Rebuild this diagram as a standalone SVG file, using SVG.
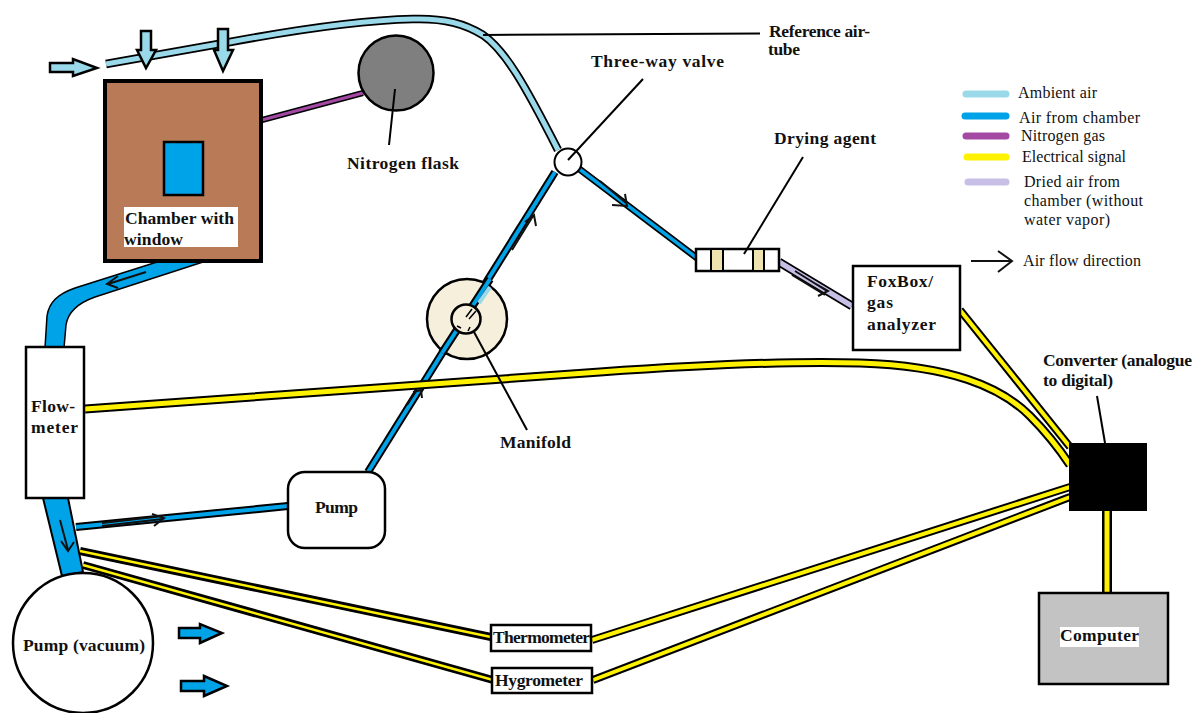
<svg xmlns="http://www.w3.org/2000/svg" width="1194" height="713" viewBox="0 0 1194 713">
<defs>
<style>
text{font-family:"Liberation Serif","Times New Roman",serif;fill:#111}
.b{font-weight:bold;font-size:17.500px}
.l{font-size:16px}
.box{fill:#fff;stroke:#000;stroke-width:2.5}
.k{fill:none;stroke:#000}
.blue{fill:none;stroke:#00a2e8}
.yel{fill:none;stroke:#fff200}
.amb{fill:none;stroke:#99d9ea}
.lead{fill:none;stroke:#000;stroke-width:2}
.leg{fill:none;stroke-width:7;stroke-linecap:round}
.ar{fill:none;stroke:#111;stroke-width:2}
</style>
</defs>
<rect width="1194" height="713" fill="#fff"/>
<g id="connectors">
<path class="k" stroke-width="8.5" d="M106 64L230 42C300 29 370 20 413 19C445 18 465 24 483 35C505 50 525 85 558 150"/>
<path class="amb" stroke-width="5" d="M106 64L230 42C300 29 370 20 413 19C445 18 465 24 483 35C505 50 525 85 558 150"/>
<path class="k" stroke-width="6" d="M262 120L363 93"/><path d="M262 120L363 93" fill="none" stroke="#a349a4" stroke-width="3"/>
<path d="M157 262H203L95 297C78 303 68 312 66 325L64 348H45L47 316C49 302 58 294 75 288Z" fill="#00a2e8" stroke="#000" stroke-width="1.5"/>
<path d="M43 498H68L83 572L62 576Z" fill="#00a2e8" stroke="#000" stroke-width="2"/>
<path class="k" stroke-width="8" d="M76 527L288 506"/><path class="blue" stroke-width="4" d="M76 527L288 506"/>
<path class="k" stroke-width="8" d="M368 472L555 172"/><path class="blue" stroke-width="4" d="M368 472L555 172"/>
<path class="k" stroke-width="7" d="M578 168L697 258"/><path class="blue" stroke-width="3.500" d="M578 168L697 258"/>
<path class="k" stroke-width="9" d="M779 262L852 306"/><path fill="none" stroke="#c8bfe7" stroke-width="5.500" d="M779 262L852 306"/>
<path class="k" stroke-width="9" d="M85 409L600 372C700 365 800 361 860 363C950 366 1000 386 1030 416C1045 431 1060 450 1070 465"/>
<path class="yel" stroke-width="5" d="M85 409L600 372C700 365 800 361 860 363C950 366 1000 386 1030 416C1045 431 1060 450 1070 465"/>
<path class="k" stroke-width="8" d="M960 310L1070 447"/><path class="yel" stroke-width="4" d="M960 310L1070 447"/>
<path class="k" stroke-width="8" d="M80 551L491 637"/><path class="yel" stroke-width="2.500" d="M80 551L491 637"/>
<path class="k" stroke-width="8" d="M83 565L493 680"/><path class="yel" stroke-width="2.500" d="M83 565L493 680"/>
<path class="k" stroke-width="8" d="M592 640L1070 487"/><path class="yel" stroke-width="4" d="M592 640L1070 487"/>
<path class="k" stroke-width="8" d="M593 680L1070 497"/><path class="yel" stroke-width="4" d="M593 680L1070 497"/>
<path class="k" stroke-width="10" d="M1107 510V592"/><path class="yel" stroke-width="5" d="M1107 510V592"/>
<path class="ar" d="M146 272L108 284M118 276L107 284L118 288"/>
<path class="ar" d="M60 520L68 550M61 541L68 551L74 542"/>
<path class="ar" d="M102 526L163 519M102 523L163 516M152 514L164 518L154 526" stroke-width="1.500"/>
<path class="ar" d="M600 181L626 203M612 205L627 206L625 194"/>
<path class="ar" d="M795 271L827 291M792 275L825 295M816 284L828 291L818 296"/>
<path class="ar" d="M407 405L417 390M413 392L421 390L422 398" stroke-width="1.500"/>
<path class="ar" d="M512 250L533 216M525 222L534 215L536 226" stroke-width="1.500"/>
</g>
<g id="ambient-arrows" fill="#99d9ea" stroke="#000" stroke-width="2.5">
<path d="M50 63H73V59L97 68L73 76V72H50Z"/>
<path d="M141 31H151V50H156L146 68L137 50H141Z"/>
<path d="M218 29H228V50H233L223 71L214 50H218Z"/>
</g>
<g id="exhaust-arrows" fill="#00a2e8" stroke="#000" stroke-width="2.5">
<path d="M179 628H200V624L222 633L200 643V638H179Z"/>
<path d="M181 681H204V676L227 686L204 696V691H181Z"/>
</g>
<g id="chamber">
<rect x="105" y="81" width="156" height="180" fill="#b97a57" stroke="#000" stroke-width="4"/>
<rect x="164" y="142" width="39" height="53" fill="#00a2e8" stroke="#000" stroke-width="2.5"/>
<rect x="124" y="207" width="114" height="40" fill="#fff"/>
<text class="b" x="125" y="224" textLength="109">Chamber with</text>
<text class="b" x="124" y="245" textLength="59">window</text>
</g>
<g id="nitrogen-flask">
<circle cx="396" cy="73" r="37.500" fill="#7f7f7f" stroke="#000" stroke-width="2.5"/>
<path class="lead" d="M395 89L389 145"/>
<text class="b" x="347" y="169" textLength="112">Nitrogen flask</text>
</g>
<g id="flowmeter">
<rect class="box" x="26" y="347" width="58" height="151"/>
<text class="b" x="31" y="412" textLength="44">Flow-</text>
<text class="b" x="31" y="433" textLength="47">meter</text>
</g>
<g id="pump-vacuum">
<circle class="box" cx="83" cy="643" r="70"/>
<text class="b" x="23" y="651" textLength="122">Pump (vacuum)</text>
</g>
<g id="pump">
<rect class="box" x="288" y="472" width="97" height="76" rx="17"/>
<text class="b" x="315" y="513" textLength="43">Pump</text>
</g>
<g id="manifold">
<circle cx="467" cy="319" r="40" fill="#f5efdc" stroke="#000" stroke-width="2.5"/>
<path class="k" stroke-width="8" d="M442 353L490 279"/>
<path class="blue" stroke-width="4" d="M442 353L490 279"/>
<path d="M490 287L479 303" fill="none" stroke="#99d9ea" stroke-width="4"/>
<circle cx="466" cy="319" r="14.500" fill="#f5efdc" stroke="#000" stroke-width="2.5"/>
<path d="M466 317L472 309M469 319L476 311M457 326L461 328M470 327L468 331" fill="none" stroke="#000" stroke-width="1.500"/>
<path class="lead" d="M474 332L527 430"/>
<text class="b" x="500" y="448" textLength="71">Manifold</text>
</g>
<g id="three-way-valve">
<circle cx="568" cy="162" r="13.500" fill="#fff" stroke="#000" stroke-width="2"/>
<path class="lead" d="M568 160L643 79"/>
<text class="b" x="591" y="67" textLength="133">Three-way valve</text>
</g>
<g id="reference-tube">
<path class="lead" d="M483 35L760 33.500"/>
<text class="b" x="769" y="37" textLength="101">Reference air-</text>
<text class="b" x="768" y="55" textLength="32">tube</text>
</g>
<g id="drying-agent">
<rect class="box" x="696" y="249" width="83" height="22"/>
<rect x="711" y="249" width="12" height="22" fill="#efe4b0" stroke="#000" stroke-width="2"/>
<rect x="753" y="249" width="11" height="22" fill="#efe4b0" stroke="#000" stroke-width="2"/>
<path class="lead" d="M803 157L744 254"/>
<text class="b" x="774" y="144" textLength="102">Drying agent</text>
</g>
<g id="foxbox">
<rect class="box" x="853" y="266" width="107" height="84"/>
<text class="b" x="867" y="287" textLength="66">FoxBox/</text>
<text class="b" x="867" y="308" textLength="26">gas</text>
<text class="b" x="867" y="330" textLength="69">analyzer</text>
</g>
<g id="thermometer">
<rect class="box" x="491" y="625" width="100" height="26"/>
<text class="b" x="493" y="643" textLength="97">Thermometer</text>
</g>
<g id="hygrometer">
<rect class="box" x="492" y="668" width="100" height="25"/>
<text class="b" x="495" y="686" textLength="88">Hygrometer</text>
</g>
<g id="converter">
<rect x="1069" y="443" width="78" height="68" fill="#000"/>
<path class="lead" d="M1097 396L1105 443"/>
<text class="b" x="1043" y="366" textLength="149">Converter (analogue</text>
<text class="b" x="1043" y="386" textLength="70">to digital)</text>
</g>
<g id="computer">
<rect x="1039" y="593" width="129" height="91" fill="#c3c3c3" stroke="#000" stroke-width="2.5"/>
<rect x="1060" y="627" width="79" height="20" fill="#fff"/>
<text class="b" x="1060" y="641" textLength="79">Computer</text>
</g>
<g id="legend">
<path class="leg" stroke="#99d9ea" d="M966 94H1006"/>
<path class="leg" stroke="#00a2e8" d="M965 116H1006"/>
<path class="leg" stroke="#a349a4" d="M966 136H1006"/>
<path class="leg" stroke="#fff200" d="M967 157H1006"/>
<path class="leg" stroke="#c8bfe7" d="M968 182H1006"/>
<path class="ar" stroke-width="2.500" d="M971 261H1012M998 251L1012 261L998 272"/>
<text class="l" x="1018" y="98" textLength="79">Ambient air</text>
<text class="l" x="1019" y="123" textLength="121">Air from chamber</text>
<text class="l" x="1021" y="141" textLength="84">Nitrogen gas</text>
<text class="l" x="1022" y="162" textLength="104">Electrical signal</text>
<text class="l" x="1024" y="187" textLength="96">Dried air from</text>
<text class="l" x="1024" y="206" textLength="119">chamber (without</text>
<text class="l" x="1024" y="225" textLength="86">water vapor)</text>
<text class="l" x="1023" y="266" textLength="118">Air flow direction</text>
</g>
</svg>
